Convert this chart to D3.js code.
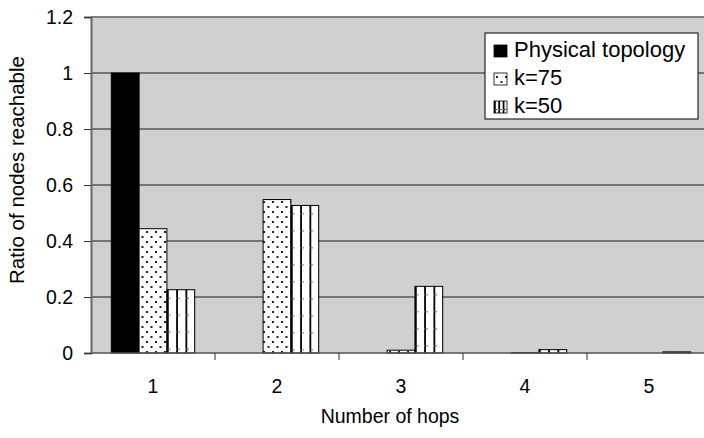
<!DOCTYPE html>
<html>
<head>
<meta charset="utf-8">
<script src="https://cdn.jsdelivr.net/npm/d3@7"></script>
<style>
  body { margin: 0; background: #fff; }
  svg { display: block; font-family: "Liberation Sans", Arial, sans-serif; }
</style>
</head>
<body>
<div id="chart"></div>
<script>
// data
var hops = ["1", "2", "3", "4", "5"];
var seriesNames = ["Physical topology", "k=75", "k=50"];
var physical = [1.0, 0, 0, 0, 0];
var k75 = [0.444, 0.548, 0.01, 0.001, 0];
var k50 = [0.226, 0.527, 0.238, 0.012, 0.004];
var yTicks = [0, 0.2, 0.4, 0.6, 0.8, 1, 1.2];

var width = 704, height = 438;
var plotLeft = 91, plotTop = 17, plotW = 620, plotH = 336;
var axisFont = 19.5, legendFont = 22;

var svg = d3.select("#chart").append("svg")
    .attr("width", width)
    .attr("height", height);

var defs = svg.append("defs");

// dotted fill
var dots = defs.append("pattern")
    .attr("id", "dots")
    .attr("patternUnits", "userSpaceOnUse")
    .attr("width", 9).attr("height", 10);
dots.append("rect").attr("width", 9).attr("height", 10).attr("fill", "#fff");
dots.append("rect").attr("x", 2).attr("y", 1).attr("width", 2).attr("height", 2).attr("fill", "#222");
dots.append("rect").attr("x", 6.5).attr("y", 6).attr("width", 2).attr("height", 2).attr("fill", "#222");

// vertical stripes fill, three columns per bar
var stripes = defs.append("pattern")
    .attr("id", "stripes")
    .attr("patternUnits", "objectBoundingBox")
    .attr("width", 1 / 3).attr("height", 1);
stripes.append("rect").attr("width", 20).attr("height", 400).attr("fill", "#fff");
stripes.append("rect").attr("x", 0).attr("y", 0).attr("width", 1.8).attr("height", 400).attr("fill", "#000");
stripes.selectAll("rect.tick")
    .data(d3.range(8, 400, 17))
    .enter().append("rect")
    .attr("class", "tick")
    .attr("x", 0).attr("y", function (d) { return d; })
    .attr("width", 3.5).attr("height", 1).attr("fill", "#555");

var fills = ["#000", "url(#dots)", "url(#stripes)"];

var x = d3.scaleBand().domain(hops).range([plotLeft, plotLeft + plotW]);
var xs = d3.scaleBand().domain(seriesNames).range([0, x.bandwidth()]).paddingOuter(0.73).paddingInner(0);
var y = d3.scaleLinear().domain([0, 1.2]).range([plotTop + plotH, plotTop]);

// plot background
svg.append("rect")
    .attr("x", plotLeft).attr("y", plotTop)
    .attr("width", plotW).attr("height", plotH)
    .attr("fill", "#d0d0d0");

// gridlines
svg.append("g").selectAll("line")
    .data(yTicks.filter(function (d) { return d > 0 && d < 1.2; }))
    .enter().append("line")
    .attr("x1", plotLeft).attr("x2", plotLeft + plotW)
    .attr("y1", function (d) { return y(d); })
    .attr("y2", function (d) { return y(d); })
    .attr("stroke", "#1a1a1a").attr("stroke-width", 1);

// top border
svg.append("line")
    .attr("x1", plotLeft).attr("x2", plotLeft + plotW)
    .attr("y1", plotTop).attr("y2", plotTop)
    .attr("stroke", "#808080").attr("stroke-width", 2);

// bars
var series = [physical, k75, k50];
series.forEach(function (vals, si) {
    svg.append("g").selectAll("rect")
        .data(vals)
        .enter().append("rect")
        .attr("x", function (d, i) { return x(hops[i]) + xs(seriesNames[si]); })
        .attr("y", function (d) { return y(d); })
        .attr("width", xs.bandwidth())
        .attr("height", function (d) { return y(0) - y(d); })
        .attr("fill", fills[si])
        .attr("stroke", "#000")
        .attr("stroke-width", function (d) { return d > 0 ? 1 : 0; });
});

// y axis
var yAxis = svg.append("g")
    .attr("transform", "translate(" + plotLeft + ",0)")
    .call(d3.axisLeft(y).tickValues(yTicks).tickSize(7).tickPadding(11)
        .tickFormat(function (d) { return String(+d.toFixed(1)); }));
yAxis.select(".domain").attr("stroke", "#666").attr("stroke-width", 2);
yAxis.selectAll(".tick line").attr("stroke", "#333");
yAxis.selectAll("text").attr("font-size", axisFont).attr("fill", "#000")
    .attr("font-family", "Liberation Sans, Arial, sans-serif");

// x axis
var xAxis = svg.append("g")
    .attr("transform", "translate(0," + (plotTop + plotH) + ")");
xAxis.append("line")
    .attr("x1", plotLeft).attr("x2", plotLeft + plotW)
    .attr("stroke", "#555").attr("stroke-width", 1.5);
xAxis.selectAll("line.tk")
    .data(hops.slice(1))
    .enter().append("line")
    .attr("class", "tk")
    .attr("x1", function (d) { return x(d); })
    .attr("x2", function (d) { return x(d); })
    .attr("y1", 0).attr("y2", 7)
    .attr("stroke", "#333");
xAxis.selectAll("text")
    .data(hops)
    .enter().append("text")
    .attr("x", function (d) { return x(d) + x.bandwidth() / 2; })
    .attr("y", 40)
    .attr("text-anchor", "middle")
    .attr("font-size", axisFont)
    .text(function (d) { return d; });

// axis titles
svg.append("text")
    .attr("x", 390).attr("y", 423)
    .attr("text-anchor", "middle")
    .attr("font-size", axisFont)
    .text("Number of hops");

svg.append("text")
    .attr("transform", "translate(24,170) rotate(-90)")
    .attr("text-anchor", "middle")
    .attr("font-size", 20.5)
    .text("Ratio of nodes reachable");

// legend
var lg = svg.append("g").attr("transform", "translate(485,33)");
lg.append("rect")
    .attr("width", 213).attr("height", 86)
    .attr("fill", "#fff").attr("stroke", "#000").attr("stroke-width", 1);
seriesNames.forEach(function (name, i) {
    var row = lg.append("g").attr("transform", "translate(9," + (24 + i * 28) + ")");
    row.append("rect")
        .attr("x", 0).attr("y", -12)
        .attr("width", 13).attr("height", 12)
        .attr("fill", fills[i])
        .attr("stroke", "#000").attr("stroke-width", 0.8);
    row.append("text")
        .attr("x", 20).attr("y", 0)
        .attr("font-size", legendFont)
        .text(name);
});
</script>
</body>
</html>
